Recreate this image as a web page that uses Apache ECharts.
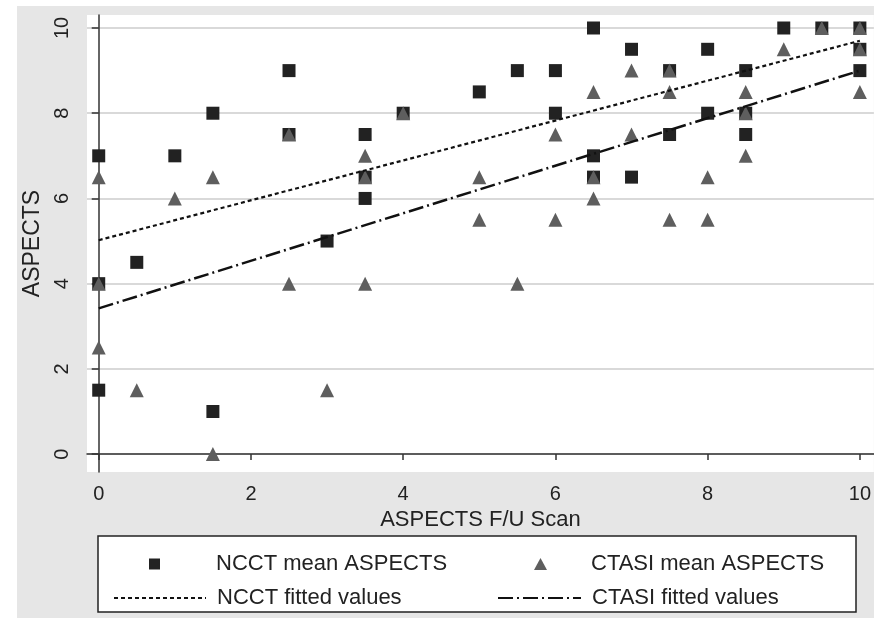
<!DOCTYPE html>
<html>
<head>
<meta charset="utf-8">
<script src="https://cdn.jsdelivr.net/npm/echarts@6/dist/echarts.min.js"></script>
<style>html,body{margin:0;padding:0;background:#fff}#c{width:874px;height:618px}</style>
</head>
<body>
<div id="c"></div>
<script>
// NCCT mean ASPECTS (x = ASPECTS F/U scan, y = ASPECTS)
var ncctX = [0, 0, 0, 0.5, 1, 1.5, 1.5, 2.5, 2.5, 3, 3.5, 3.5, 3.5, 4, 5, 5.5, 6, 6, 6.5, 6.5, 6.5, 7, 7, 7.5, 7.5, 8, 8, 8.5, 8.5, 8.5, 9, 9.5, 10, 10, 10];
var ncctY = [7, 4, 1.5, 4.5, 7, 8, 1, 9, 7.5, 5, 7.5, 6.5, 6, 8, 8.5, 9, 9, 8, 10, 7, 6.5, 9.5, 6.5, 9, 7.5, 9.5, 8, 9, 8, 7.5, 10, 10, 10, 9.5, 9];
// CTASI mean ASPECTS
var ctasiX = [0, 0, 0, 0.5, 1, 1.5, 1.5, 2.5, 2.5, 3, 3.5, 3.5, 3.5, 4, 5, 5, 5.5, 6, 6, 6.5, 6.5, 6.5, 7, 7, 7.5, 7.5, 7.5, 8, 8, 8.5, 8.5, 8.5, 9, 9.5, 10, 10, 10];
var ctasiY = [6.5, 4, 2.5, 1.5, 6, 6.5, 0, 7.5, 4, 1.5, 7, 6.5, 4, 8, 6.5, 5.5, 4, 7.5, 5.5, 8.5, 6.5, 6, 9, 7.5, 9, 8.5, 5.5, 6.5, 5.5, 8.5, 8, 7, 9.5, 10, 10, 9.5, 8.5];
// fitted values (endpoints)
var fitX = [0, 10];
var ncctFitY = [5.02, 9.70];
var ctasiFitY = [3.42, 9.00];
var tickValues = [0, 2, 4, 6, 8, 10];

function pairs(xs, ys) { return xs.map(function (x, i) { return [x, ys[i]]; }); }

var FONT = 'Liberation Sans, Arial, sans-serif';
var chart = echarts.init(document.getElementById('c'));
var legendText = { fontFamily: FONT, fontSize: 22, color: '#222' };
chart.setOption({
  backgroundColor: '#fff',
  animation: false,
  graphic: [
    { type: 'rect', z: -10, shape: { x: 17, y: 6, width: 857, height: 612 }, style: { fill: '#e6e6e6' } },
    { type: 'rect', z: 1, shape: { x: 98, y: 536, width: 758, height: 76 }, style: { fill: '#fff', stroke: '#222', lineWidth: 1.5 } }
  ],
  grid: { left: 87, right: 0, top: 15, bottom: 146, show: true, backgroundColor: '#fff', borderWidth: 0 },
  xAxis: {
    type: 'value', min: -0.154, max: 10.184,
    name: 'ASPECTS F/U Scan', nameLocation: 'middle', nameGap: 36,
    nameTextStyle: { fontFamily: FONT, fontSize: 22, color: '#222' },
    axisLine: { show: true, lineStyle: { color: '#333', width: 1.5 } },
    axisTick: { show: true, length: 6, customValues: tickValues, lineStyle: { color: '#333', width: 1.5 } },
    axisLabel: { customValues: tickValues, margin: 12, fontFamily: FONT, fontSize: 20, color: '#222' },
    splitLine: { show: false }
  },
  yAxis: {
    type: 'value', min: -0.42, max: 10.305,
    name: 'ASPECTS', nameLocation: 'middle', nameGap: 43, nameRotate: 90,
    nameTextStyle: { fontFamily: FONT, fontSize: 23, color: '#222' },
    axisLine: { show: true, lineStyle: { color: '#333', width: 1.5 } },
    axisTick: { show: true, length: 7, customValues: tickValues, lineStyle: { color: '#333', width: 1.5 } },
    axisLabel: { customValues: tickValues, rotate: 90, margin: 15, fontFamily: FONT, fontSize: 20, color: '#222' },
    splitLine: { show: true, lineStyle: { color: '#d9d9d9', width: 2 } }
  },
  legend: [
    { left: 149, top: 553, padding: 0, itemWidth: 11, itemHeight: 11, data: [{ name: 'NCCT mean ASPECTS', icon: 'rect' }], textStyle: Object.assign({ padding: [0, 0, 0, 51] }, legendText) },
    { left: 534, top: 553, padding: 0, itemWidth: 13, itemHeight: 12, data: [{ name: 'CTASI mean ASPECTS', icon: 'triangle' }], textStyle: Object.assign({ padding: [0, 0, 0, 39] }, legendText) },
    { left: 113, top: 587, padding: 0, itemWidth: 92, itemHeight: 12, itemStyle: { opacity: 0 }, data: ['NCCT fitted values'], textStyle: Object.assign({ padding: [0, 0, 0, 6] }, legendText) },
    { left: 497, top: 587, padding: 0, itemWidth: 83, itemHeight: 12, itemStyle: { opacity: 0 }, data: ['CTASI fitted values'], textStyle: Object.assign({ padding: [0, 0, 0, 6] }, legendText) }
  ],
  series: [
    { name: 'NCCT mean ASPECTS', type: 'scatter', symbol: 'rect', symbolSize: 13, itemStyle: { color: '#222', opacity: 1 }, data: pairs(ncctX, ncctY), z: 3 },
    { name: 'CTASI mean ASPECTS', type: 'scatter', symbol: 'triangle', symbolSize: 14, itemStyle: { color: '#5e5e5e', opacity: 1 }, data: pairs(ctasiX, ctasiY), z: 4 },
    { name: 'NCCT fitted values', type: 'line', showSymbol: false, symbol: 'none', itemStyle: { color: '#111' }, data: pairs(fitX, ncctFitY), lineStyle: { color: '#111', width: 2.2, type: [4, 3] }, z: 5 },
    { name: 'CTASI fitted values', type: 'line', showSymbol: false, symbol: 'none', itemStyle: { color: '#111' }, data: pairs(fitX, ctasiFitY), lineStyle: { color: '#111', width: 2.5, type: [15, 4, 2, 4] }, z: 5 }
  ]
});
</script>
</body>
</html>
